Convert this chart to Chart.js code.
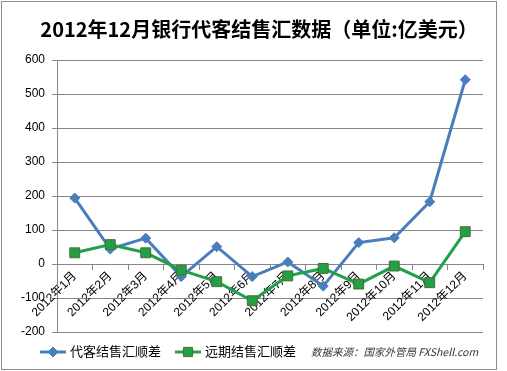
<!DOCTYPE html>
<html>
<head>
<meta charset="utf-8">
<script src="https://cdn.jsdelivr.net/npm/chart.js@4/dist/chart.umd.min.js"></script>
<style>
html,body{margin:0;padding:0;background:#fff;}
#wrap{position:relative;width:507px;height:371px;}
</style>
</head>
<body>
<div id="wrap"><canvas id="c" width="507" height="371"></canvas></div>
<script>
const categories = ['2012年1月','2012年2月','2012年3月','2012年4月','2012年5月','2012年6月','2012年7月','2012年8月','2012年9月','2012年10月','2012年11月','2012年12月'];
const agentBalance = [194, 44, 76, -37, 51, -37, 6, -65, 63, 77, 183, 542];
const forwardBalance = [33, 57, 33, -18, -52, -108, -35, -13, -59, -6, -55, 95];
const seriesNames = ['代客结售汇顺差', '远期结售汇顺差'];
const titleText = '2012年12月银行代客结售汇数据（单位:亿美元）';
const sourceText = '数据来源：国家外管局 FXShell.com';
const yMin = -200, yMax = 600, yStep = 100;

const BLUE = '#4A7EBB';
const GREEN = '#1FA04A';
const FONT = '"Liberation Sans", "Noto Sans CJK SC", sans-serif';

const framePlugin = {
  id: 'frame',
  beforeDraw(chart) {
    const ctx = chart.ctx;
    ctx.save();
    ctx.fillStyle = '#fff';
    ctx.fillRect(0, 0, chart.width, chart.height);
    ctx.strokeStyle = '#8c8c8c';
    ctx.lineWidth = 1;
    ctx.strokeRect(1.5, 1.5, 495, 368);
    ctx.font = 'bold 20px "Noto Sans CJK SC", sans-serif';
    ctx.fillStyle = '#000';
    ctx.textAlign = 'center';
    ctx.textBaseline = 'middle';
    ctx.fillText(titleText, 259, 29);
    ctx.restore();
  },
  afterDraw(chart) {
    const ctx = chart.ctx;
    ctx.save();
    const ly = 352;
    const items = [
      {x0: 40, x1: 66, tx: 70, color: BLUE, style: 'rectRot', r: 5, fill: BLUE, border: BLUE, name: seriesNames[0]},
      {x0: 175, x1: 201, tx: 205, color: GREEN, style: 'rect', r: 6.5, fill: '#22A046', border: '#4E6B35', name: seriesNames[1]}
    ];
    items.forEach(it => {
      ctx.strokeStyle = it.color;
      ctx.lineWidth = 3;
      ctx.beginPath();
      ctx.moveTo(it.x0, ly);
      ctx.lineTo(it.x1, ly);
      ctx.stroke();
      ctx.fillStyle = it.fill;
      ctx.strokeStyle = it.border;
      ctx.lineWidth = 1;
      Chart.helpers.drawPoint(ctx, {pointStyle: it.style, radius: it.r, borderWidth: 1}, (it.x0 + it.x1) / 2, ly);
      ctx.fillStyle = '#000';
      ctx.font = '13px ' + FONT;
      ctx.textBaseline = 'middle';
      ctx.textAlign = 'left';
      ctx.fillText(it.name, it.tx, ly);
    });
    ctx.font = 'italic 10.5px "Noto Sans CJK SC", "Liberation Sans", sans-serif';
    ctx.fillStyle = '#333';
    ctx.fillText(sourceText, 311, ly);
    ctx.restore();
  }
};

new Chart(document.getElementById('c'), {
  type: 'line',
  data: {
    labels: categories,
    datasets: [
      {
        label: seriesNames[0],
        data: agentBalance,
        borderColor: BLUE,
        backgroundColor: BLUE,
        borderWidth: 3,
        pointStyle: 'rectRot',
        pointRadius: 5,
        pointBorderWidth: 1,
        pointBackgroundColor: BLUE,
        pointBorderColor: BLUE,
        tension: 0,
        order: 2
      },
      {
        label: seriesNames[1],
        data: forwardBalance,
        borderColor: GREEN,
        backgroundColor: '#22A046',
        borderWidth: 3,
        pointStyle: 'rect',
        pointRadius: 7,
        pointBorderWidth: 1,
        pointBackgroundColor: '#22A046',
        pointBorderColor: '#4E6B35',
        tension: 0,
        order: 1
      }
    ]
  },
  options: {
    responsive: false,
    animation: false,
    devicePixelRatio: 1,
    layout: {padding: {left: 0, right: 24, top: 60, bottom: 39}},
    plugins: {
      legend: {display: false},
      tooltip: {enabled: false},
      title: {display: false}
    },
    scales: {
      x: {
        type: 'category',
        offset: true,
        position: {y: 0},
        grid: {display: true, drawOnChartArea: false, drawTicks: true, tickLength: 5, color: '#868686', offset: true},
        border: {display: true, color: '#868686', width: 1},
        ticks: {
          autoSkip: false,
          minRotation: 45,
          maxRotation: 45,
          padding: 0,
          color: '#000',
          font: {family: FONT, size: 12}
        }
      },
      y: {
        min: yMin,
        max: yMax,
        afterFit(scale) { scale.width = 57; },
        grid: {color: '#868686', lineWidth: 1, drawTicks: true, tickLength: 5},
        border: {display: true, color: '#868686'},
        ticks: {
          stepSize: yStep,
          padding: 7,
          color: '#000',
          font: {family: FONT, size: 12}
        }
      }
    }
  },
  plugins: [framePlugin]
});
</script>
</body>
</html>
